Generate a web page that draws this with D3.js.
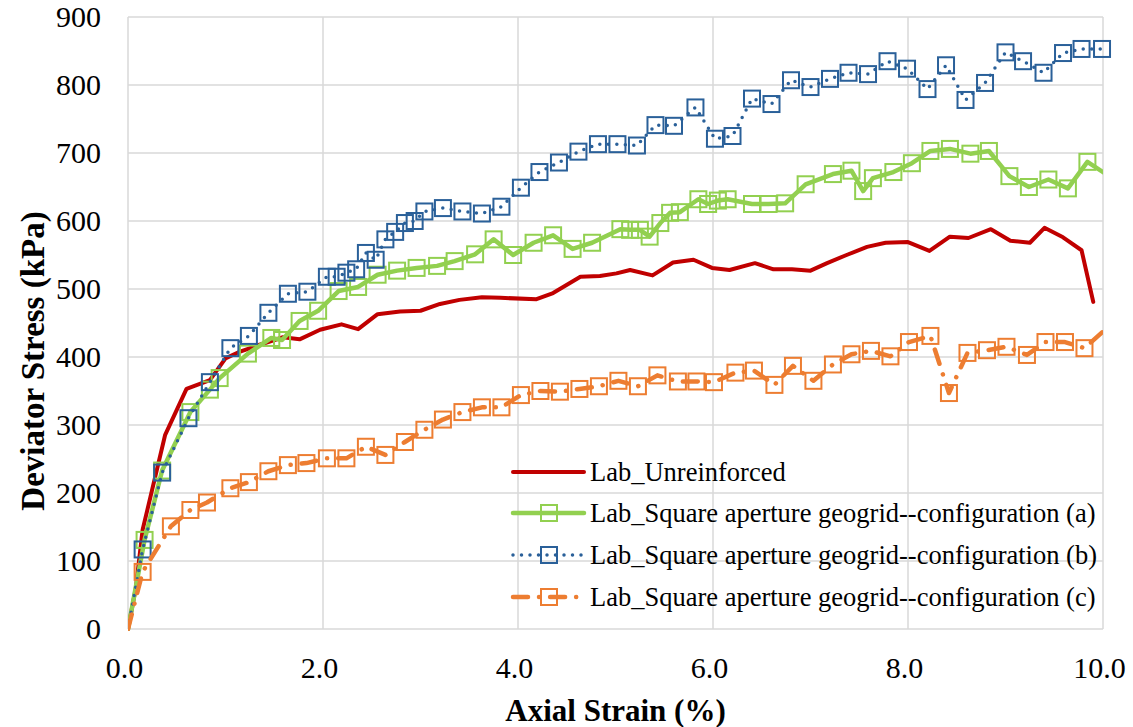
<html>
<head>
<meta charset="utf-8">
<style>
  body { margin: 0; background: #fff; }
  text { font-family: "Liberation Serif", "Times New Roman", serif; fill: #000; }
</style>
</head>
<body>
<svg id="chart" width="1133" height="727"></svg>
<script src="https://cdn.jsdelivr.net/npm/d3@7"></script>
<script>
// data: [axial strain %, deviator stress kPa]
let unreinforced = [[0,0],[0.08,60],[0.15,146],[0.23,194],[0.38,285],[0.6,353],[0.84,366],[1.0,398],[1.15,408],[1.35,418],[1.59,429],[1.76,426],[1.97,440],[2.19,448],[2.36,441],[2.56,463],[2.79,467],[3.0,468],[3.2,478],[3.4,484],[3.63,488],[3.82,487],[4.19,485],[4.36,494],[4.64,518],[4.84,519],[5.01,523],[5.15,528],[5.38,520],[5.59,539],[5.8,543],[5.99,531],[6.17,528],[6.43,538],[6.62,529],[6.81,529],[7.0,527],[7.17,538],[7.37,550],[7.58,562],[7.77,568],[8.0,569],[8.22,556],[8.43,577],[8.62,575],[8.85,588],[9.05,571],[9.25,568],[9.4,590],[9.59,576],[9.78,557],[9.9,481]]

let configA = [[0,0],[0.17,131],[0.35,233],[0.64,319],[0.84,352],[0.94,369],[1.23,405],[1.47,428],[1.58,425],[1.76,453],[1.95,468],[2.16,497],[2.36,503],[2.56,521],[2.76,527],[2.96,531],[3.17,534],[3.35,541],[3.56,551],[3.75,573],[3.95,550],[4.16,568],[4.36,579],[4.56,559],[4.76,568],[5.05,588],[5.15,587],[5.25,587],[5.35,577],[5.46,597],[5.56,612],[5.66,613],[5.85,632],[5.95,625],[6.05,630],[6.15,632],[6.4,625],[6.57,625],[6.74,626],[6.95,654],[7.23,669],[7.42,674],[7.54,644],[7.64,663],[7.85,672],[8.04,685],[8.23,703],[8.43,706],[8.64,699],[8.83,703],[9.04,666],[9.24,650],[9.44,661],[9.64,648],[9.84,687],[10.01,671]]

let configB = [[0,0],[0.15,117],[0.35,230],[0.62,310],[0.84,363],[1.05,413],[1.24,431],[1.44,465],[1.64,493],[1.84,496],[2.04,518],[2.14,518],[2.24,524],[2.34,529],[2.44,553],[2.54,543],[2.64,573],[2.74,584],[2.84,597],[2.94,600],[3.04,614],[3.23,619],[3.43,614],[3.63,611],[3.83,621],[4.03,649],[4.22,672],[4.42,686],[4.62,702],[4.82,713],[5.02,713],[5.22,711],[5.41,741],[5.6,740],[5.82,767],[6.02,721],[6.2,725],[6.4,780],[6.6,772],[6.8,807],[7.0,797],[7.2,809],[7.39,818],[7.59,816],[7.79,835],[7.99,824],[8.2,794],[8.39,829],[8.59,778],[8.79,803],[9.0,848],[9.18,835],[9.39,818],[9.59,847],[9.78,853],[9.99,853]]

let configC = [[0,0],[0.15,84],[0.44,151],[0.64,175],[0.81,186],[1.05,207],[1.24,216],[1.44,232],[1.64,241],[1.83,244],[2.04,251],[2.24,251],[2.44,268],[2.64,256],[2.84,275],[3.04,293],[3.23,308],[3.43,319],[3.63,326],[3.83,326],[4.03,344],[4.23,350],[4.43,349],[4.63,353],[4.83,357],[5.03,365],[5.23,357],[5.43,373],[5.64,364],[5.83,364],[6.01,363],[6.23,377],[6.42,380],[6.63,359],[6.82,387],[7.03,365],[7.23,389],[7.42,404],[7.62,409],[7.82,401],[8.01,422],[8.23,431],[8.42,347],[8.61,406],[8.81,410],[9.01,415],[9.22,403],[9.41,422],[9.61,422],[9.81,413],[10.02,440]]

let seriesNames = ["Lab_Unreinforced",
    "Lab_Square aperture geogrid--configuration (a)",
    "Lab_Square aperture geogrid--configuration (b)",
    "Lab_Square aperture geogrid--configuration (c)"]
let xTicks = [0, 2, 4, 6, 8, 10]
let yTicks = [0, 100, 200, 300, 400, 500, 600, 700, 800, 900]

let series = [
    {name: seriesNames[0], data: unreinforced, color: "#C00000", width: 4, dash: null, cap: "round", marker: false},
    {name: seriesNames[1], data: configA, color: "#92D050", width: 4.5, dash: null, cap: "round", marker: true},
    {name: seriesNames[2], data: configB, color: "#2A6099", width: 3.5, dash: "0,8.5", cap: "round", marker: true},
    {name: seriesNames[3], data: configC, color: "#ED7D31", width: 4.5, dash: "15,11,0.1,11", cap: "round", marker: true}
]

let svg = d3.select("#chart")
let plotLeft = 128, plotRight = 1103, plotTop = 17, plotBottom = 629

let x = d3.scaleLinear().domain([0, 10]).range([plotLeft, plotRight])
let y = d3.scaleLinear().domain([0, 900]).range([plotBottom, plotTop])

// clip for the lines (points just past 10 % are cut at the plot edge)
svg.append("defs").append("clipPath").attr("id", "plotClip")
    .append("rect")
    .attr("x", plotLeft).attr("y", plotTop - 10)
    .attr("width", plotRight - plotLeft).attr("height", plotBottom - plotTop + 12)

// gridlines
let grid = svg.append("g")
grid.selectAll(".gx").data(xTicks).enter().append("line")
    .attr("x1", d => x(d)).attr("x2", d => x(d))
    .attr("y1", plotTop).attr("y2", plotBottom)
    .attr("stroke", "#D9D9D9").attr("stroke-width", 1.5)
grid.selectAll(".gy").data(yTicks).enter().append("line")
    .attr("x1", plotLeft).attr("x2", plotRight)
    .attr("y1", d => y(d)).attr("y2", d => y(d))
    .attr("stroke", "#D9D9D9").attr("stroke-width", 1.5)

// axes, drawn with d3 axes but only the labels kept
let xAxis = svg.append("g")
    .attr("transform", `translate(-4,${plotBottom})`)
    .call(d3.axisBottom(x).tickValues(xTicks).tickFormat(d3.format(".1f")).tickSize(0).tickPadding(28))
let yAxis = svg.append("g")
    .attr("transform", `translate(${plotLeft - 27},0)`)
    .call(d3.axisLeft(y).tickValues(yTicks).tickSize(0).tickPadding(0))
;[xAxis, yAxis].forEach(a => {
    a.select(".domain").remove()
    a.selectAll("text")
        .style("font-family", '"Liberation Serif", "Times New Roman", serif')
        .style("font-size", "30px").attr("fill", "#000")
})

// axis titles
svg.append("text")
    .attr("x", (plotLeft + plotRight) / 2).attr("y", 721)
    .attr("text-anchor", "middle")
    .style("font-size", "31px").style("font-weight", "bold")
    .text("Axial Strain (%)")
svg.append("text")
    .attr("transform", "translate(44,361) rotate(-90)")
    .attr("text-anchor", "middle")
    .style("font-size", "33px").style("font-weight", "bold")
    .text("Deviator Stress (kPa)")

// series
let line = d3.line().x(d => x(d[0])).y(d => y(d[1]))
let size = 16

series.forEach(s => {
    let g = svg.append("g")
    g.append("path")
        .attr("clip-path", "url(#plotClip)")
        .attr("d", line(s.data))
        .attr("fill", "none")
        .attr("stroke", s.color)
        .attr("stroke-width", s.width)
        .attr("stroke-linejoin", "round")
        .attr("stroke-linecap", s.cap)
        .attr("stroke-dasharray", s.dash)
    if (s.marker) {
        g.selectAll("rect")
            .data(s.data.filter(d => d[0] > 0 && d[0] <= 10))
            .enter().append("rect")
            .attr("x", d => x(d[0]) - size / 2)
            .attr("y", d => y(d[1]) - size / 2)
            .attr("width", size).attr("height", size)
            .attr("fill", "none")
            .attr("stroke", s.color).attr("stroke-width", 2)
    }
})

// legend
let legendRows = [472, 513, 555, 597]
let legend = svg.append("g")
series.forEach((s, i) => {
    let row = legend.append("g").attr("transform", `translate(0,${legendRows[i]})`)
    row.append("line")
        .attr("x1", 513).attr("x2", 584).attr("y1", 0).attr("y2", 0)
        .attr("stroke", s.color).attr("stroke-width", s.width)
        .attr("stroke-linecap", s.cap)
        .attr("stroke-dasharray", s.dash)
    if (s.marker) {
        row.append("rect")
            .attr("x", 549 - size / 2).attr("y", -size / 2)
            .attr("width", size).attr("height", size)
            .attr("fill", "none").attr("stroke", s.color).attr("stroke-width", 2)
    }
    row.append("text")
        .attr("x", 590).attr("y", 0).attr("dy", "0.33em")
        .style("font-size", "26.5px")
        .text(s.name)
})
</script>
</body>
</html>
